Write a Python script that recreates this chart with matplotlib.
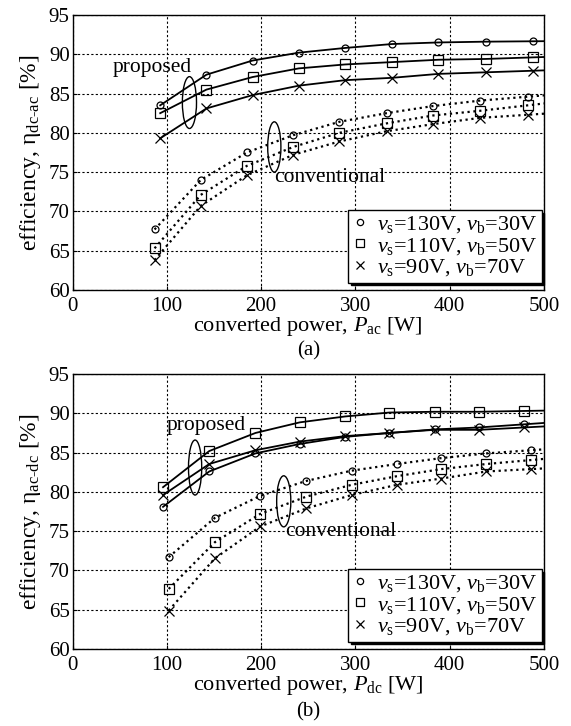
import numpy as np
import matplotlib
matplotlib.use("Agg")
import matplotlib.pyplot as plt
from matplotlib.patches import Ellipse
from matplotlib.lines import Line2D

plt.rcParams['font.family'] = ['Liberation Serif', 'DejaVu Serif']
plt.rcParams['mathtext.fontset'] = 'custom'
plt.rcParams['mathtext.rm'] = 'Liberation Serif'
plt.rcParams['mathtext.it'] = 'Liberation Serif:italic'
plt.rcParams['font.size'] = 15

# (a) dc-ac
p_ac_prop = [93, 142, 191, 240, 289, 339, 388, 438, 488]
a_prop_130 = [83.5, 87.4, 89.2, 90.2, 90.8, 91.3, 91.5, 91.6, 91.65]
a_prop_110 = [82.5, 85.5, 87.1, 88.2, 88.7, 89.0, 89.3, 89.4, 89.6]
a_prop_90 = [79.3, 83.1, 84.8, 86.0, 86.7, 87.0, 87.5, 87.7, 87.9]
p_ac_conv = [87, 136, 185, 234, 283, 333, 382, 432, 483]
a_conv_130 = [67.7, 74.0, 77.5, 79.7, 81.4, 82.5, 83.4, 84.1, 84.6]
a_conv_110 = [65.3, 72.1, 75.8, 78.2, 80.0, 81.2, 82.2, 82.8, 83.5]
a_conv_90 = [63.8, 70.7, 74.6, 77.2, 78.9, 80.2, 81.1, 81.9, 82.3]

# (b) ac-dc
p_dc_prop = [96, 145, 194, 241, 289, 336, 384, 431, 479]
b_prop_130 = [78.1, 82.6, 84.9, 86.1, 87.0, 87.5, 87.95, 88.2, 88.6]
b_prop_110 = [80.6, 85.2, 87.5, 88.85, 89.6, 90.1, 90.2, 90.2, 90.3]
b_prop_90 = [79.6, 83.55, 85.3, 86.4, 87.1, 87.5, 87.9, 87.9, 88.2]
p_dc_conv = [102, 151, 199, 248, 296, 344, 391, 439, 486]
b_conv_130 = [71.7, 76.7, 79.5, 81.4, 82.7, 83.55, 84.3, 84.9, 85.3]
b_conv_110 = [67.65, 73.6, 77.2, 79.4, 80.9, 82.0, 82.9, 83.55, 84.05]
b_conv_90 = [64.9, 71.55, 75.6, 77.9, 79.6, 80.9, 81.7, 82.6, 82.9]

markers = ['o', 's', 'x']
msizes = [5, 6.5, 7]
labels = [r'$v_{\rm s}$=130V, $v_{\rm b}$=30V',
          r'$v_{\rm s}$=110V, $v_{\rm b}$=50V',
          r'$v_{\rm s}$=90V, $v_{\rm b}$=70V']


def extend(x, y, xend=500):
    # carry the last segment on to the right edge of the axes
    x = list(x)
    y = list(y)
    slope = (y[-1] - y[-2]) / (x[-1] - x[-2])
    return x + [xend], y + [y[-1] + slope * (xend - x[-1])]


def draw(ax, xp, props, xc, convs):
    for ys, m, ms in zip(props, markers, msizes):
        lx, ly = extend(xp, ys)
        ax.plot(lx, ly, '-', color='black', lw=1.3)
        ax.plot(xp, ys, m, ms=ms, mfc='none', mec='black', mew=0.9)
    for ys, m, ms in zip(convs, markers, msizes):
        lx, ly = extend(xc, ys)
        ax.plot(lx, ly, ':', color='black', lw=1.6)
        ax.plot(xc, ys, m, ms=ms, mfc='none', mec='black', mew=0.9)
    ax.set_xlim(0, 500)
    ax.set_ylim(60, 95)
    ax.set_xticks([0, 100, 200, 300, 400, 500])
    ax.set_yticks([60, 65, 70, 75, 80, 85, 90, 95])
    ax.grid(True, ls=(0, (2, 2)), color='black', lw=0.8)
    ax.tick_params(direction='in', length=3, width=0.8, labelsize=15)
    ax.tick_params(axis='x', pad=5)
    ax.tick_params(axis='y', pad=2)
    for s in ax.spines.values():
        s.set_linewidth(1.0)
    handles = [Line2D([], [], ls='none', marker=m, ms=ms * 0.9, mfc='none',
                      mec='black', mew=0.9) for m, ms in zip(markers, msizes)]
    leg = ax.legend(handles, labels, loc='lower right', bbox_to_anchor=(0.995, 0.027),
                    borderaxespad=0, fancybox=False, shadow={'color': 'black', 'alpha': 1},
                    edgecolor='black', framealpha=1, handlelength=0.7,
                    handletextpad=0.4, labelspacing=0.02, borderpad=0.2, fontsize=16)
    leg.get_frame().set_linewidth(1.0)


fig = plt.figure(figsize=(5.71, 7.26), dpi=100)
ax1 = fig.add_axes([0.127, 0.6006, 0.8257, 0.3788])
ax2 = fig.add_axes([0.127, 0.106, 0.8257, 0.3788])

draw(ax1, p_ac_prop, [a_prop_130, a_prop_110, a_prop_90],
     p_ac_conv, [a_conv_130, a_conv_110, a_conv_90])
draw(ax2, p_dc_prop, [b_prop_130, b_prop_110, b_prop_90],
     p_dc_conv, [b_conv_130, b_conv_110, b_conv_90])

ax1.text(43, 88.3, 'proposed', va='center', ha='left', fontsize=15.5)
ax1.add_patch(Ellipse((124, 83.85), 15, 6.6, fill=False, color='black', lw=1.0))
ax1.add_patch(Ellipse((214, 78.2), 14, 6.4, fill=False, color='black', lw=1.0))
ax1.text(214, 74.3, 'conventional', va='center', ha='left', fontsize=15.5)

ax2.text(100, 88.5, 'proposed', va='center', ha='left', fontsize=15.5)
ax2.add_patch(Ellipse((130, 83.1), 14, 7.0, fill=False, color='black', lw=1.0))
ax2.add_patch(Ellipse((224, 78.8), 15, 6.5, fill=False, color='black', lw=1.0))
ax2.text(225, 74.9, 'conventional', va='center', ha='left', fontsize=15.5)

ax1.set_ylabel(r'efficiency, η$_{\rm dc\text{-}ac}$ [%]', fontsize=17, labelpad=4)
ax1.set_xlabel(r'converted power, $P_{\rm ac}$ [W]', fontsize=16, labelpad=-1)
ax2.set_ylabel(r'efficiency, η$_{\rm ac\text{-}dc}$ [%]', fontsize=17, labelpad=4)
ax2.set_xlabel(r'converted power, $P_{\rm dc}$ [W]', fontsize=16, labelpad=-1)

xmid = 0.127 + 0.8257 / 2
fig.text(xmid, 1 - 351 / 726, '(a)', ha='center', va='center', fontsize=15)
fig.text(xmid, 1 - 712 / 726, '(b)', ha='center', va='center', fontsize=15)

fig.savefig('out.png', dpi=100)
